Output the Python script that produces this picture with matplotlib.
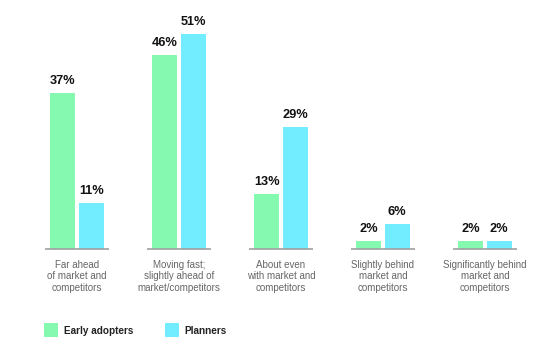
import matplotlib
matplotlib.use("Agg")
import matplotlib.pyplot as plt
from matplotlib.patches import Rectangle

categories = ["Far ahead\nof market and\ncompetitors",
              "Moving fast;\nslightly ahead of\nmarket/competitors",
              "About even\nwith market and\ncompetitors",
              "Slightly behind\nmarket and\ncompetitors",
              "Significantly behind\nmarket and\ncompetitors"]
early_adopters = [37, 46, 13, 2, 2]
planners = [11, 51, 29, 6, 2]
series_names = ["Early adopters", "Planners"]

GREEN = "#86F9B0"
BLUE = "#72ECFF"
FONT = "Liberation Sans"

W, H = 554, 351
fig = plt.figure(figsize=(W / 100, H / 100), dpi=100)
ax = fig.add_axes([0, 0, 1, 1])
px_per_unit = 102.0
px_per_pct = 4.216
x0_px = 77.0
base_px = H - 249.0
ax.set_xlim(-x0_px / px_per_unit, (W - x0_px) / px_per_unit)
ax.set_ylim(-base_px / px_per_pct, (H - base_px) / px_per_pct)
ax.axis("off")

bw = 0.25
off = 0.14
xs = list(range(len(categories)))
ax.bar([x - off for x in xs], early_adopters, width=bw, color=GREEN)
ax.bar([x + off for x in xs], planners, width=bw, color=BLUE)

gap = 6 / px_per_pct
for x, a, p in zip(xs, early_adopters, planners):
    ax.text(x - off, a + gap, f"{a}%", ha="center", va="bottom",
            fontsize=9.2, fontweight="bold", family=FONT, color="#111111")
    ax.text(x + off, p + gap, f"{p}%", ha="center", va="bottom",
            fontsize=9.2, fontweight="bold", family=FONT, color="#111111")
    ax.plot([x - 0.31, x + 0.31], [0, 0], color="#A0A0A0", lw=1.2,
            solid_capstyle="butt")

for x, c in zip(xs, categories):
    ax.text(x, -11 / px_per_pct, c, ha="center", va="top", fontsize=7.0,
            family=FONT, color="#666666", linespacing=1.18)

# legend
for (lx, tx, col, name) in [(44, 64, GREEN, series_names[0]),
                            (165, 184, BLUE, series_names[1])]:
    fig.add_artist(Rectangle((lx / W, 1 - 337 / H), 14 / W, 14 / H,
                             transform=fig.transFigure, color=col, lw=0))
    fig.text(tx / W, 1 - 331 / H, name, ha="left", va="center",
             fontsize=7.2, fontweight="bold", family=FONT, color="#222222")

fig.savefig("out.png", dpi=100)
